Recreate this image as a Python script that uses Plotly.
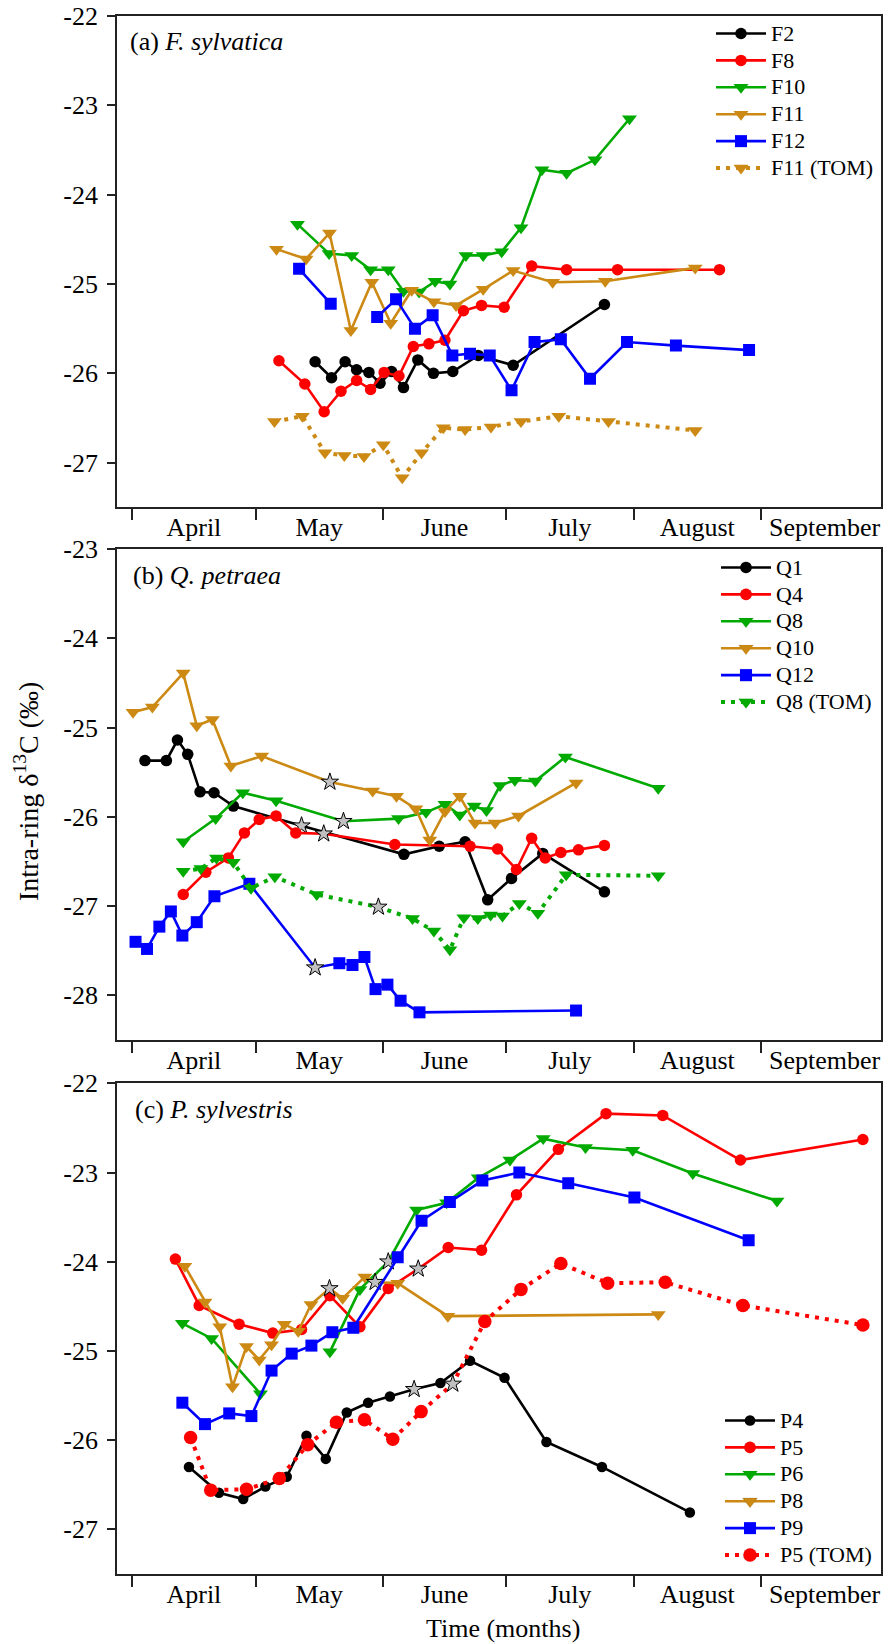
import pandas as pd
import plotly.graph_objects as go

BASE = pd.Timestamp("2001-01-01")   # x values are day-of-year (non-leap year)

# ---------------- Panel (a) F. sylvatica ----------------
F2_doy = [135.5, 139.5, 142.8, 145.6, 148.6, 151.3, 154.1, 157.0, 160.5, 164.3, 169.0, 175.2, 183.7, 205.9]
F2_val = [-25.87, -26.05, -25.87, -25.96, -25.99, -26.11, -25.98, -26.16, -25.85, -26.00, -25.98, -25.80, -25.91, -25.23]
F2_star = []

F8_doy = [126.7, 133.0, 137.7, 141.8, 145.6, 149.0, 152.3, 155.9, 159.4, 163.2, 167.1, 171.6, 176.0, 181.5, 188.2, 196.7, 209.1, 233.9]
F8_val = [-25.86, -26.12, -26.43, -26.20, -26.08, -26.18, -25.99, -26.03, -25.70, -25.67, -25.63, -25.30, -25.24, -25.26, -24.80, -24.84, -24.84, -24.84]
F8_star = []

F10_doy = [131.2, 138.9, 144.4, 149.0, 153.3, 157.0, 160.8, 164.7, 168.3, 172.2, 176.4, 180.9, 185.6, 190.7, 196.7, 203.6, 212.0]
F10_val = [-24.33, -24.66, -24.68, -24.84, -24.84, -25.08, -25.09, -24.97, -25.00, -24.68, -24.68, -24.64, -24.37, -23.72, -23.76, -23.61, -23.15]
F10_star = []

F11_doy = [126.1, 133.3, 139.0, 144.2, 149.3, 153.9, 159.0, 164.4, 169.8, 176.4, 183.7, 193.3, 206.1, 228.0]
F11_val = [-24.61, -24.72, -24.43, -25.52, -24.98, -25.44, -25.07, -25.20, -25.24, -25.06, -24.85, -24.98, -24.97, -24.82]
F11_star = []

F12_doy = [131.6, 139.3, None, 150.6, 155.2, 159.8, 164.1, 168.9, 173.2, 178.0, 183.3, 188.9, 195.3, 202.4, 211.4, 223.3, 241.1]
F12_val = [-24.83, -25.22, None, -25.37, -25.17, -25.50, -25.35, -25.80, -25.78, -25.80, -26.19, -25.65, -25.62, -26.06, -25.65, -25.69, -25.74]
F12_star = []

F11TOM_doy = [125.6, 132.4, 137.9, 142.6, 147.4, 152.1, 156.7, 161.4, 166.7, 172.0, 178.3, 185.6, 194.8, 206.9, 228.0]
F11TOM_val = [-26.54, -26.48, -26.89, -26.92, -26.93, -26.80, -27.17, -26.89, -26.61, -26.63, -26.60, -26.54, -26.48, -26.54, -26.64]
F11TOM_star = []

# ---------------- Panel (b) Q. petraea ----------------
Q1_doy = [94.1, 99.3, 102.0, 104.5, 107.5, 110.9, 115.6, 132.2, 157.1, 165.7, 172.0, 177.5, 183.3, 190.9, 205.9]
Q1_val = [-25.37, -25.37, -25.14, -25.30, -25.72, -25.73, -25.88, -26.10, -26.42, -26.33, -26.28, -26.93, -26.69, -26.41, -26.84]
Q1_star = [7]

Q4_doy = [103.4, 108.9, 114.4, 118.3, 121.9, 126.0, 130.8, 137.6, 154.9, 173.2, 179.9, 184.5, 188.2, 191.5, 195.3, 199.6, 205.9]
Q4_val = [-26.87, -26.62, -26.46, -26.18, -26.03, -25.99, -26.18, -26.19, -26.31, -26.33, -26.36, -26.59, -26.24, -26.46, -26.40, -26.37, -26.32]
Q4_star = [7]

Q8_doy = [103.4, 111.3, 117.9, 126.0, 142.4, 155.8, 162.5, 167.1, 170.7, 174.2, 177.2, 180.5, 184.1, 189.1, 196.4, 219.0]
Q8_val = [-26.28, -26.02, -25.73, -25.82, -26.05, -26.02, -25.95, -25.86, -25.98, -25.88, -25.93, -25.65, -25.59, -25.60, -25.33, -25.68]
Q8_star = [4]

Q10_doy = [91.2, 95.9, 103.4, 106.7, 110.5, 115.0, 122.5, 139.1, 149.5, 155.3, 160.0, 163.4, 167.1, 170.7, 174.4, 179.3, 185.0, 199.0]
Q10_val = [-24.83, -24.77, -24.39, -24.98, -24.91, -25.43, -25.32, -25.61, -25.71, -25.77, -25.91, -26.26, -25.94, -25.77, -26.07, -26.07, -25.99, -25.62]
Q10_star = [7]

Q12_doy = [91.8, 94.6, 97.6, 100.4, 103.2, 106.7, 111.0, 119.5, 135.5, 141.4, 144.6, 147.5, 150.2, 153.1, 156.3, 160.9, 199.0]
Q12_val = [-27.40, -27.48, -27.23, -27.06, -27.33, -27.18, -26.89, -26.75, -27.69, -27.64, -27.66, -27.57, -27.93, -27.88, -28.06, -28.19, -28.17]
Q12_star = [8]

Q8TOM_doy = [103.4, 107.7, 111.5, 115.6, 119.9, 125.7, 135.9, 150.9, 159.2, 164.4, 168.3, 171.7, 175.1, 178.2, 181.1, 185.2, 189.7, 196.6, 219.0]
Q8TOM_val = [-26.61, -26.58, -26.46, -26.51, -26.80, -26.67, -26.87, -27.01, -27.14, -27.28, -27.49, -27.13, -27.14, -27.10, -27.11, -26.97, -27.08, -26.65, -26.66]
Q8TOM_star = [7]

# ---------------- Panel (c) P. sylvestris ----------------
P4_doy = [104.8, 112.1, 118.0, 123.4, 128.6, 133.4, 138.1, 143.2, 148.4, 153.7, 159.6, 166.0, 173.2, 181.6, 191.8, 205.3, 226.7]
P4_val = [-26.30, -26.59, -26.66, -26.52, -26.41, -25.95, -26.21, -25.69, -25.58, -25.51, -25.43, -25.36, -25.11, -25.30, -26.02, -26.30, -26.81]
P4_star = [10]

P5_doy = [101.5, 107.3, 117.0, 125.2, 132.2, 139.1, 146.4, 153.3, 160.6, 167.9, 176.0, 184.5, 194.7, 206.3, 220.1, 239.0, 268.8]
P5_val = [-23.97, -24.49, -24.70, -24.80, -24.76, -24.38, -24.73, -24.30, -24.08, -23.84, -23.87, -23.25, -22.74, -22.34, -22.36, -22.86, -22.63]
P5_star = [8]

P6_doy = [103.2, 110.3, 122.2, None, 139.1, 146.4, 153.3, 160.2, 167.5, 175.2, 182.9, 191.0, 201.3, 212.8, 227.4, 247.9]
P6_val = [-24.69, -24.86, -25.48, None, -25.01, -24.31, -24.00, -23.42, -23.34, -23.06, -22.86, -22.62, -22.72, -22.75, -23.01, -23.32]
P6_star = [6]

P8_doy = [103.8, 108.7, 112.3, 115.4, 118.8, 121.9, 124.9, 128.0, 131.4, 134.5, 139.0, 142.2, 147.6, 150.1, 155.6, 167.8, 219.0]
P8_val = [-24.05, -24.45, -24.73, -25.40, -24.95, -25.10, -24.93, -24.70, -24.78, -24.48, -24.30, -24.41, -24.17, -24.23, -24.24, -24.61, -24.59]
P8_star = [10, 13]

P9_doy = [103.2, 108.7, 114.6, 120.0, 124.9, 129.8, 134.6, 139.7, 144.8, 155.6, 161.4, 168.3, 176.2, 185.2, 197.1, 213.2, 241.0]
P9_val = [-25.58, -25.82, -25.70, -25.73, -25.22, -25.03, -24.94, -24.79, -24.74, -23.95, -23.54, -23.33, -23.09, -23.00, -23.12, -23.28, -23.76]
P9_star = []

P5TOM_doy = [105.2, 110.1, 118.8, 126.8, 133.7, 140.7, 147.5, 154.4, 161.3, 169.0, 176.8, 185.6, 195.3, 206.7, 220.7, 239.6, 268.8]
P5TOM_val = [-25.97, -26.56, -26.55, -26.43, -26.05, -25.80, -25.77, -25.99, -25.68, -25.37, -24.67, -24.31, -24.02, -24.24, -24.23, -24.49, -24.71]
P5TOM_star = [9]

# tick labels
YTICKS_A = [-22, -23, -24, -25, -26, -27]
YTICKS_B = [-23, -24, -25, -26, -27, -28]
YTICKS_C = [-22, -23, -24, -25, -26, -27]

# ---------------- styling ----------------
FONT = "Liberation Serif, Times New Roman, serif"
BLACK, RED, GREEN, GOLD, BLUE = "#000000", "#ff0000", "#00aa00", "#cc8a14", "#0000ff"
STAR_FILL = "#c0c0c0"

W, H = 893, 1644
ML, MR, MT, MB = 117, 12, 16, 70
PH = H - MT - MB
PW = W - ML - MR


def ydom(top_px, bot_px):
    return [(H - MB - bot_px) / PH, (H - MB - top_px) / PH]


fig = go.Figure()


def add(name, doy, val, stars, color, symbol, msize, xa, ya, legend, dotted=False):
    x = [BASE + pd.Timedelta(days=d - 1) if d is not None else None for d in doy]
    n = len(doy)
    is_star = [i in stars for i in range(n)]
    fig.add_trace(go.Scatter(
        x=x, y=val, name='<span style="font-size:22px">%s</span>' % name,
        mode="lines+markers", xaxis=xa, yaxis=ya, legend=legend,
        connectgaps=False,
        line=dict(color=color, width=4 if dotted else 2.6,
                  dash="4px,6px" if dotted else "solid"),
        marker=dict(
            opacity=1,
            symbol=["star" if s else symbol for s in is_star],
            color=[STAR_FILL if s else color for s in is_star],
            size=[13 if s else msize for s in is_star],
            line=dict(color="black", width=[1 if s else 0 for s in is_star]),
        ),
    ))


CIR, TRI, SQ, BIG = 11.5, 13, 12, 13.5

# panel a
add("F2", F2_doy, F2_val, F2_star, BLACK, "circle", CIR, "x", "y", "legend")
add("F8", F8_doy, F8_val, F8_star, RED, "circle", CIR, "x", "y", "legend")
add("F10", F10_doy, F10_val, F10_star, GREEN, "triangle-down", TRI, "x", "y", "legend")
add("F11", F11_doy, F11_val, F11_star, GOLD, "triangle-down", TRI, "x", "y", "legend")
add("F12", F12_doy, F12_val, F12_star, BLUE, "square", SQ, "x", "y", "legend")
add("F11 (TOM)", F11TOM_doy, F11TOM_val, F11TOM_star, GOLD, "triangle-down", TRI, "x", "y", "legend", dotted=True)
# panel b
add("Q1", Q1_doy, Q1_val, Q1_star, BLACK, "circle", CIR, "x2", "y2", "legend2")
add("Q4", Q4_doy, Q4_val, Q4_star, RED, "circle", CIR, "x2", "y2", "legend2")
add("Q8", Q8_doy, Q8_val, Q8_star, GREEN, "triangle-down", TRI, "x2", "y2", "legend2")
add("Q10", Q10_doy, Q10_val, Q10_star, GOLD, "triangle-down", TRI, "x2", "y2", "legend2")
add("Q12", Q12_doy, Q12_val, Q12_star, BLUE, "square", SQ, "x2", "y2", "legend2")
add("Q8 (TOM)", Q8TOM_doy, Q8TOM_val, Q8TOM_star, GREEN, "triangle-down", TRI, "x2", "y2", "legend2", dotted=True)
# panel c
add("P4", P4_doy, P4_val, P4_star, BLACK, "circle", CIR - 1, "x3", "y3", "legend3")
add("P5", P5_doy, P5_val, P5_star, RED, "circle", CIR, "x3", "y3", "legend3")
add("P6", P6_doy, P6_val, P6_star, GREEN, "triangle-down", TRI, "x3", "y3", "legend3")
add("P8", P8_doy, P8_val, P8_star, GOLD, "triangle-down", TRI, "x3", "y3", "legend3")
add("P9", P9_doy, P9_val, P9_star, BLUE, "square", SQ, "x3", "y3", "legend3")
add("P5 (TOM)", P5TOM_doy, P5TOM_val, P5TOM_star, RED, "circle", BIG, "x3", "y3", "legend3", dotted=True)

XRANGE = ["2001-03-28 07:00", "2001-09-30 05:00"]


def xax(anchor):
    return dict(type="date", range=XRANGE, anchor=anchor, domain=[0, 1],
                automargin=False,
                showline=True, linecolor="#222", linewidth=1.8, mirror=True,
                ticks="outside", ticklen=11, tickwidth=1.5, tickcolor="#222",
                dtick="M1", tick0="2001-04-01", tickformat="%B", ticklabelmode="period",
                ticklabelstandoff=-15,
                tickfont=dict(family=FONT, size=26, color="black"),
                showgrid=False, zeroline=False)


def yax(anchor, rng, dom, ticks):
    return dict(range=rng, domain=dom, anchor=anchor, automargin=False,
                showline=True, linecolor="#222", linewidth=1.8, mirror=True,
                ticks="outside", ticklen=8, tickwidth=1.5, tickcolor="#222",
                tickvals=ticks, ticktext=[str(t) for t in ticks],
                tickfont=dict(family=FONT, size=26, color="black"),
                ticklabelstandoff=4,
                showgrid=False, zeroline=False)


def leg(x0_px, top_px):
    return dict(x=(x0_px - ML) / PW, y=(H - MB - top_px) / PH,
                xanchor="left", yanchor="top", xref="paper", yref="paper",
                font=dict(family=FONT, size=18.4, color="black"),
                bgcolor="rgba(0,0,0,0)", borderwidth=0, itemwidth=50,
                tracegroupgap=0)


fig.update_layout(
    template="none",
    width=W, height=H, margin=dict(l=ML, r=MR, t=MT, b=MB, autoexpand=False),
    paper_bgcolor="white", plot_bgcolor="white",
    font=dict(family=FONT, color="black"),
    xaxis=xax("y"), yaxis=yax("x", [-27.5, -22], ydom(16, 507.3), YTICKS_A),
    xaxis2=xax("y2"), yaxis2=yax("x2", [-28.5, -23], ydom(549, 1040), YTICKS_B),
    xaxis3=xax("y3"), yaxis3=yax("x3", [-27.5, -22], ydom(1083.3, 1574), YTICKS_C),
    legend=leg(711, 15), legend2=leg(716, 549), legend3=leg(720, 1402),
    showlegend=True,
)

ann = [
    dict(text="(a) <i>F. sylvatica</i>", xref="x domain", yref="y domain", x=0.0147, y=0.9477),
    dict(text="(b) <i>Q. petraea</i>", xref="x2 domain", yref="y2 domain", x=0.0177, y=0.9456),
    dict(text="(c) <i>P. sylvestris</i>", xref="x3 domain", yref="y3 domain", x=0.0212, y=0.9456),
]
for a in ann:
    fig.add_annotation(**a, xanchor="left", yanchor="middle", showarrow=False,
                       font=dict(family=FONT, size=26, color="black"))

fig.add_annotation(text="Intra-ring δ<sup>13</sup>C (‰)", xref="paper", yref="paper",
                   x=(26 - ML) / PW, y=(H - MB - 792) / PH, textangle=-90,
                   xanchor="center", yanchor="middle", showarrow=False,
                   font=dict(family=FONT, size=28, color="black"))
fig.add_annotation(text="Time (months)", xref="paper", yref="paper",
                   x=(503 - ML) / PW, y=-(1612 - (H - MB)) / PH,
                   xanchor="center", yanchor="top", showarrow=False,
                   font=dict(family=FONT, size=26, color="black"))

fig.write_html("out.html", post_script="document.body.style.margin='0';",
               config={"displayModeBar": False})
